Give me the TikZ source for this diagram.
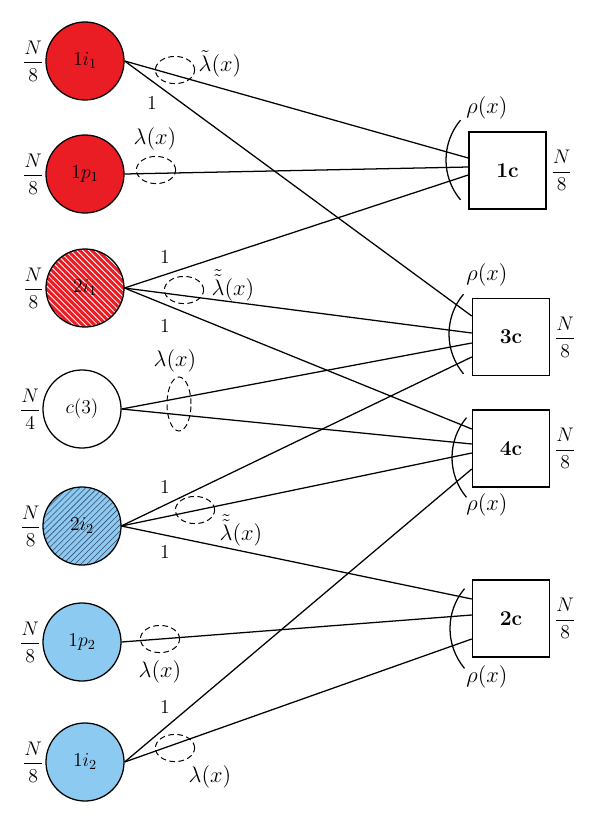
\RequirePackage{fix-cm}
\documentclass[tikz,border=0pt]{standalone}
\usepackage{amsmath}
\usetikzlibrary{shapes.geometric, patterns.meta, calc}

\definecolor{vred}{RGB}{234,28,36}
\definecolor{vblue}{RGB}{140,202,242}
\definecolor{hatchblue}{RGB}{50,75,110}

\tikzset{
	vnode/.style={circle, draw, line width=0.9pt, minimum size=1.95cm, inner sep=0pt,
		label={[inner sep=1pt]left:$\dfrac{N}{#1}$}},
	cnode/.style={rectangle, draw, line width=0.9pt, minimum size=1.93cm, inner sep=0pt,
		font=\fontsize{15}{18}\selectfont\bfseries,
		label={[inner sep=3pt, font=\fontsize{14}{17}\selectfont]right:$\dfrac{N}{8}$}},
	wire/.style={line width=0.9pt},
	deg/.style={ellipse, draw, dashed, line width=0.7pt, dash pattern=on 4pt off 2.5pt,
		minimum width=0.98cm, minimum height=0.68cm, inner sep=0pt},
	dist/.style={font=\fontsize{16}{19}\selectfont, inner sep=1pt},
	lbl/.style={inner sep=1pt}
}

\begin{document}
\begin{tikzpicture}[x=0.025cm, y=-0.025cm, font=\fontsize{14}{17}\selectfont]
			\useasboundingbox (0,0) rectangle (600,824);
			
			% variable nodes
			\node[vnode=8, fill=vred] (i11) at (85,61) {$1i_1$};
			\node[vnode=8, fill=vred] (p11) at (85,174) {$1p_1$};
			\node[vnode=8, preaction={fill=vred}, pattern={Lines[angle=-45, distance=3pt, line width=0.6pt]}, pattern color=white] (i21) at (85,288) {};
			\node (i21t) at (i21) {$2i_1$};
			\node[vnode=4] (deg3) at (82,409) {$c(3)$};
			\node[vnode=8, preaction={fill=vblue}, pattern={Lines[angle=45, distance=3pt, line width=0.4pt]}, pattern color=hatchblue] (i22) at (82,526) {};
			\node (i22t) at (i22) {$2i_2$};
			\node[vnode=8, fill=vblue] (p12) at (82,642) {$1p_2$};
			\node[vnode=8, fill=vblue] (i12) at (85,762) {$1i_2$};
			
			% check nodes
			\node[cnode] (c1) at (507.5,170.5) {1c};
			\node[cnode] (c3) at (511,337) {3c};
			\node[cnode] (c4) at (511,448.5) {4c};
			\node[cnode] (c2) at (511,618.5) {2c};
			
			% edges
			\draw[wire] (i11.east) -- ($(c1.west)+(0,-12.5)$);
			\draw[wire] (i11.east) -- ($(c3.west)+(0,-21)$);
			\draw[wire] (p11.east) -- ($(c1.west)+(0,-3.5)$);
			\draw[wire] (i21.east) -- ($(c1.west)+(0,4.5)$);
			\draw[wire] (i21.east) -- ($(c3.west)+(0,-4)$);
			\draw[wire] (i21.east) -- ($(c4.west)+(0,-19.5)$);
			\draw[wire] (deg3.east) -- ($(c3.west)+(0,6)$);
			\draw[wire] (deg3.east) -- ($(c4.west)+(0,-4.5)$);
			\draw[wire] (i22.east) -- ($(c3.west)+(0,20)$);
			\draw[wire] (i22.east) -- ($(c4.west)+(0,4.5)$);
			\draw[wire] (i22.east) -- ($(c2.west)+(0,-19.5)$);
			\draw[wire] (p12.east) -- ($(c2.west)+(0,-3.5)$);
			\draw[wire] (i12.east) -- ($(c4.west)+(0,20.5)$);
			\draw[wire] (i12.east) -- ($(c2.west)+(0,20.5)$);
			
			% rho arcs
			\draw[wire] ($(c1)+(0.5,-10.5)$) ++(140:62) arc[start angle=140, end angle=220, radius=62];
			\draw[wire] ($(c3)+(0,-3)$) ++(140:62) arc[start angle=140, end angle=220, radius=62];
			\draw[wire] ($(c4)+(3,9)$) ++(140:62) arc[start angle=140, end angle=220, radius=62];
			\draw[wire] ($(c2)+(1,10)$) ++(140:62) arc[start angle=140, end angle=220, radius=62];
			\node[dist] (r1) at (487,108) {$\rho(x)$};
			\node[dist] (r3) at (487,275) {$\rho(x)$};
			\node[dist] (r4) at (487,505) {$\rho(x)$};
			\node[dist] (r2) at (487,677) {$\rho(x)$};
			
			% degree ellipses
			\node[deg] (e1) at (175,70) {};
			\node[deg] (e2) at (156,170) {};
			\node[deg] (e3) at (184,290) {};
			\node[deg, minimum width=0.6cm, minimum height=1.35cm] (e4) at (179,404) {};
			\node[deg] (e5) at (195,510) {};
			\node[deg] (e6) at (160,639) {};
			\node[deg] (e7) at (175,748) {};
			\node[dist] (l1) at (220,64) {$\tilde{\lambda}(x)$};
			\node[dist] (l2) at (155,139) {$\lambda(x)$};
			\node[dist] (l3) at (233,285) {$\tilde{\tilde{\lambda}}(x)$};
			\node[dist] (l4) at (175,361) {$\lambda(x)$};
			\node[dist] (l5) at (241,530) {$\tilde{\tilde{\lambda}}(x)$};
			\node[dist] (l6) at (160,672) {$\lambda(x)$};
			\node[dist] (l7) at (210,777) {$\lambda(x)$};
			
			% single connections
			\node[lbl] (n1) at (152,103) {1};
			\node[lbl] (n2) at (165,257) {1};
			\node[lbl] (n3) at (165,326) {1};
			\node[lbl] (n4) at (165,487) {1};
			\node[lbl] (n5) at (165,552) {1};
			\node[lbl] (n6) at (165,707) {1};
		\end{tikzpicture}
\end{document}
